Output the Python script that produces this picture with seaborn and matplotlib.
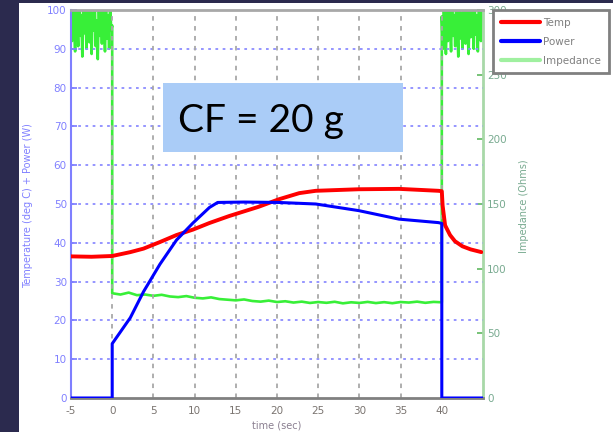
import matplotlib
matplotlib.use("Agg")
import matplotlib.pyplot as plt
import seaborn as sns
from matplotlib.lines import Line2D
from matplotlib.patches import Rectangle

# ---------------- data ----------------
temp_t = [-5, -2.5, 0, 2.2, 3.8, 5.8, 7.8, 9.8, 11.8, 14.2, 17.8, 20.2, 22.7,
          24.7, 29.9, 34.8, 39.6, 40.0, 40.1, 40.4, 41.0, 41.6, 42.5, 43.5, 44.8]
temp = [36.5, 36.4, 36.6, 37.6, 38.5, 40.2, 42.0, 43.4, 45.1, 46.9, 49.3, 51.2, 52.8,
        53.4, 53.8, 53.9, 53.4, 53.3, 49.6, 44.5, 42.0, 40.4, 39.1, 38.3, 37.6]

power_t = [-5, 0, 0, 2.2, 3.8, 5.8, 7.8, 9.8, 11.8, 12.8, 16, 20.2, 24.7, 29.9,
           34.8, 39.6, 40, 40, 45]
power = [0, 0, 14, 20.7, 27.4, 34.5, 40.7, 45.1, 49.1, 50.4, 50.5, 50.4, 50.0, 48.3,
         46.1, 45.2, 45.0, 0, 0]

imp_pre_t = [-5, -4.875, -4.75, -4.625, -4.5, -4.375, -4.25, -4.125, -4, -3.875,
             -3.75, -3.625, -3.5, -3.375, -3.25, -3.125, -3, -2.875, -2.75, -2.625,
             -2.5, -2.375, -2.25, -2.125, -2, -1.875, -1.75, -1.625, -1.5, -1.375,
             -1.25, -1.125, -1, -0.875, -0.75, -0.625, -0.5, -0.375, -0.25, -0.125, 0]
imp_pre = [300, 276, 310, 285, 268, 305, 290, 272, 315, 280, 296, 264, 308, 282, 300,
           270, 312, 288, 275, 304, 266, 298, 284, 310, 272, 292, 262, 306, 280, 300,
           274, 314, 286, 268, 302, 278, 296, 270, 308, 284, 288]
imp_mid_t = [0, 1, 2, 3, 4, 5, 6, 7, 8, 9, 10, 11, 12, 13, 14, 15, 16, 17, 18, 19, 20,
             21, 22, 23, 24, 25, 26, 27, 28, 29, 30, 31, 32, 33, 34, 35, 36, 37, 38, 39, 40]
imp_mid = [81, 80, 81.5, 79.5, 80, 79, 79.8, 78.5, 78, 78.8, 77.5, 77, 77.8, 76.5, 76,
           75.5, 76.2, 75, 74.5, 75.3, 74.2, 74.8, 73.8, 74.5, 73.5, 74.2, 73.6, 74.4,
           73.2, 74, 73.5, 74.3, 73.4, 74.1, 73.3, 74.2, 73.8, 74.5, 73.6, 74.3, 74]
imp_post_t = [40, 40.125, 40.25, 40.375, 40.5, 40.625, 40.75, 40.875, 41, 41.125,
              41.25, 41.375, 41.5, 41.625, 41.75, 41.875, 42, 42.125, 42.25, 42.375,
              42.5, 42.625, 42.75, 42.875, 43, 43.125, 43.25, 43.375, 43.5, 43.625,
              43.75, 43.875, 44, 44.125, 44.25, 44.375, 44.5, 44.625, 44.75, 44.875]
imp_post = [295, 270, 305, 282, 266, 300, 276, 312, 288, 268, 304, 280, 296, 272, 310,
            285, 264, 302, 278, 298, 270, 308, 290, 274, 306, 283, 266, 300, 279, 314,
            287, 270, 303, 281, 296, 268, 309, 284, 276, 300]

x_ticks = [-5, 0, 5, 10, 15, 20, 25, 30, 35, 40]
left_ticks = [0, 10, 20, 30, 40, 50, 60, 70, 80, 90, 100]
right_ticks = [0, 50, 100, 150, 200, 250, 300]
legend_labels = ["Temp", "Power", "Impedance"]

imp_t = imp_pre_t + imp_mid_t + imp_post_t
imp = imp_pre + imp_mid + imp_post

# ---------------- figure ----------------
sns.set_theme(style="white")
plt.rcParams["font.family"] = ["DejaVu Sans"]

fig = plt.figure(figsize=(6.13, 4.32), dpi=100, facecolor="white")
ax = fig.add_axes([71 / 613, 34 / 432, 412 / 613, 388 / 432])
ax2 = ax.twinx()

C_RED = "#ff0000"
C_BLUE = "#0000ff"
C_GREEN = "#22ee22"

# grid
for v in left_ticks[1:-1]:
    ax.axhline(v, color="#8c8cff", lw=1.3, ls=(0, (1.5, 2.5)), zorder=0)
for v in x_ticks[1:]:
    ax.axvline(v, color="#a8a8a8", lw=1.3, ls=(0, (2.5, 3)), zorder=0)

sns.lineplot(x=imp_t, y=imp, ax=ax2, color=C_GREEN, lw=1.9, alpha=0.9,
             estimator=None, sort=False, zorder=2)
sns.lineplot(x=temp_t, y=temp, ax=ax, color=C_RED, lw=2.8,
             estimator=None, sort=False, zorder=3)
sns.lineplot(x=power_t, y=power, ax=ax, color=C_BLUE, lw=2.2,
             estimator=None, sort=False, zorder=4)

ax.set_zorder(ax2.get_zorder() + 1)
ax.patch.set_visible(False)

ax.set_xlim(-5, 45)
ax.set_ylim(0, 100)
ax2.set_ylim(0, 300)
ax.set_xticks(x_ticks)
ax.set_yticks(left_ticks)
ax2.set_yticks(right_ticks)
ax.set_xticklabels([str(v) for v in x_ticks])
ax.set_yticklabels([str(v) for v in left_ticks])
ax2.set_yticklabels([str(v) for v in right_ticks])

ax.tick_params(axis="y", direction="in", length=4, color="#7f7fff",
               labelcolor="#8080ff", labelsize=7.5, pad=3)
ax.tick_params(axis="x", length=0, labelcolor="#7a7470", labelsize=7.5, pad=6)
ax2.tick_params(axis="y", direction="in", length=4, color="#66bb66",
                labelcolor="#78aa90", labelsize=7.5, pad=3)

for s in ["left", "right", "top", "bottom"]:
    ax.spines[s].set_visible(False)
    ax2.spines[s].set_visible(False)
ax.spines["left"].set_visible(True)
ax.spines["left"].set_color("#7f7fff")
ax.spines["left"].set_linewidth(1.5)
ax.spines["bottom"].set_visible(True)
ax.spines["bottom"].set_color("#808080")
ax.spines["bottom"].set_linewidth(2)
ax.spines["top"].set_visible(True)
ax.spines["top"].set_color("#a8a8a8")
ax.spines["top"].set_linewidth(2)
ax2.spines["right"].set_visible(True)
ax2.spines["right"].set_color("#a8d8a8")
ax2.spines["right"].set_linewidth(2)

ax.set_ylabel("Temperature (deg C) + Power (W)", color="#8080ff", fontsize=7)
ax.yaxis.set_label_coords(-0.092, 0.497)
ax2.set_ylabel("Impedance (Ohms)", color="#78aa90", fontsize=7, rotation=90)
ax2.yaxis.set_label_coords(1.087, 0.495)
ax.set_xlabel("")
fig.text(277 / 613, 1.5 / 432, "time (sec)", ha="center", va="bottom",
         fontsize=7, color="#8a7f90")

# annotation box
ax.add_patch(Rectangle((0.223, 0.634), 0.583, 0.178, transform=ax.transAxes,
                       facecolor="#aaccf7", edgecolor="none", zorder=10))
ax.text(0.26, 0.685, "CF = 20 g", transform=ax.transAxes, ha="left",
        va="baseline", fontsize=28, family=["Lato", "DejaVu Sans"],
        color="black", zorder=11)

# legend
handles = [Line2D([], [], color=C_RED, lw=3),
           Line2D([], [], color=C_BLUE, lw=3),
           Line2D([], [], color="#a0f0a0", lw=3)]
leg = ax.legend(handles, legend_labels, loc="upper left",
                bbox_to_anchor=(493 / 613, 422 / 432), bbox_transform=fig.transFigure,
                fontsize=7.5, frameon=True, fancybox=False, framealpha=1,
                edgecolor="#808080", handlelength=3.75, handletextpad=0.3,
                labelspacing=0.85, borderpad=0.75, borderaxespad=0)
leg.get_frame().set_linewidth(2)
for t in leg.get_texts():
    t.set_color("#808080")

# dark slide background strips
fig.patches.append(Rectangle((0, 0), 19 / 613, 1, transform=fig.transFigure,
                             facecolor="#2b2a4e", edgecolor="none", zorder=0))
fig.patches.append(Rectangle((0, 1 - 3.3 / 432), 1, 3.3 / 432, transform=fig.transFigure,
                             facecolor="#2b2a4e", edgecolor="none", zorder=0))

fig.savefig("out.png", dpi=100, facecolor="white")
